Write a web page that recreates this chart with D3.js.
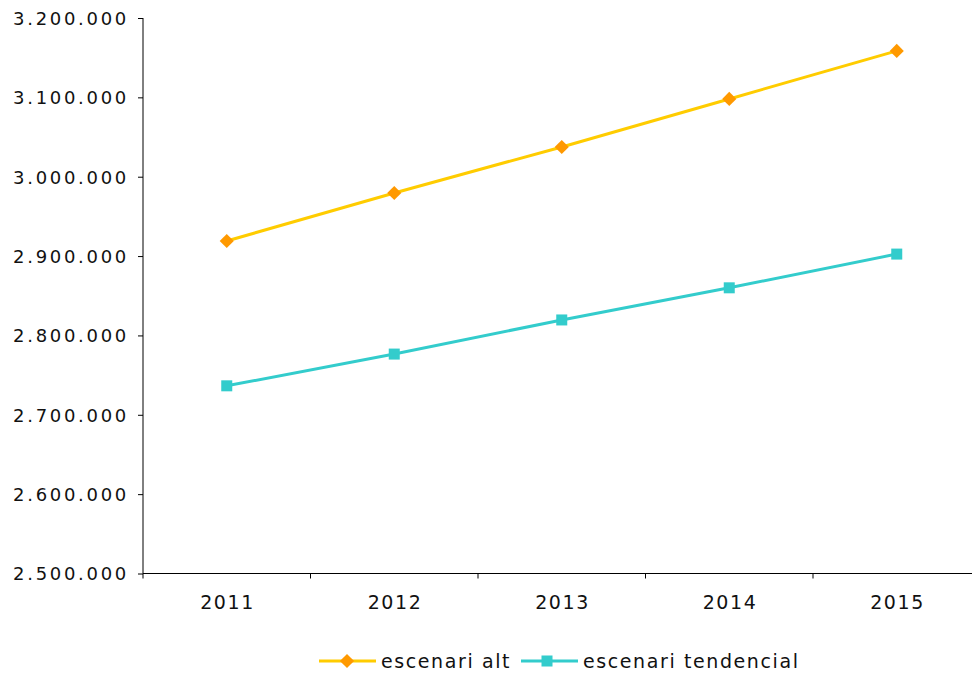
<!DOCTYPE html>
<html><head><meta charset="utf-8">
<script src="https://cdn.jsdelivr.net/npm/d3@7"></script>
<style>
body{margin:0;background:#fff;}
text{font-family:"DejaVu Sans",Verdana,sans-serif;font-size:19px;fill:#111;letter-spacing:1.6px;}
.ylab text{font-size:18px;letter-spacing:2.7px;}
</style></head>
<body><svg id="c" width="972" height="675"></svg>
<script>
const years = ["2011","2012","2013","2014","2015"];
const alt = [2919000, 2979500, 3037500, 3098000, 3158500];
const tendencial = [2736500, 2776500, 2819500, 2860000, 2902500];
const yTicks = [2500000,2600000,2700000,2800000,2900000,3000000,3100000,3200000];
const seriesNames = ["escenari alt","escenari tendencial"];

const svg = d3.select("#c");
const x0 = 143, x1 = 980.5, yTop = 18, yBot = 573.5;
const x = d3.scaleBand().domain(years).range([x0,x1]);
const y = d3.scaleLinear().domain([2500000,3200000]).range([yBot,yTop]);
const fmt = v => d3.format(",")(v).replace(/,/g,".");

const ya = svg.append("g").attr("class","ylab").attr("transform",`translate(${x0},0)`)
  .call(d3.axisLeft(y).tickValues(yTicks).tickSize(5).tickPadding(9).tickFormat(fmt));
ya.select(".domain").attr("stroke","#000").attr("d",`M0,${yTop}V${yBot}`);
ya.selectAll(".tick line").attr("stroke","#000");
ya.selectAll("text").attr("dy","0.36em");

const xa = svg.append("g").attr("transform",`translate(0,${yBot})`);
xa.append("line").attr("x1",x0).attr("x2",x1).attr("stroke","#000");
const bounds = years.map(d=>x(d)).concat([x1]);
xa.selectAll("line.t").data(bounds).enter().append("line").attr("class","t")
  .attr("x1",d=>d).attr("x2",d=>d).attr("y1",0).attr("y2",5).attr("stroke","#000");
xa.selectAll("text").data(years).enter().append("text")
  .attr("x",d=>x(d)+x.bandwidth()/2+0.8).attr("y",35.5).attr("text-anchor","middle").text(d=>d);

const line = d3.line().x((d,i)=>x(years[i])+x.bandwidth()/2).y(d=>y(d));
svg.append("path").datum(alt).attr("d",line).attr("fill","none").attr("stroke","#FFCC00").attr("stroke-width",3);
svg.append("path").datum(tendencial).attr("d",line).attr("fill","none").attr("stroke","#33CCCC").attr("stroke-width",3);

const diamond = d3.symbol().type(d3.symbolSquare).size(100);
svg.selectAll("path.dm").data(alt).enter().append("path").attr("class","dm")
  .attr("d",diamond).attr("fill","#FF9900")
  .attr("transform",(d,i)=>`translate(${x(years[i])+x.bandwidth()/2},${y(d)}) rotate(45)`);
svg.selectAll("rect.sq").data(tendencial).enter().append("rect").attr("class","sq")
  .attr("width",11).attr("height",11).attr("fill","#33CCCC")
  .attr("x",(d,i)=>x(years[i])+x.bandwidth()/2-5.5).attr("y",d=>y(d)-5.5);

const ly = 661;
const lg = svg.append("g");
lg.append("line").attr("x1",319).attr("x2",376).attr("y1",ly).attr("y2",ly).attr("stroke","#FFCC00").attr("stroke-width",3);
lg.append("path").attr("d",diamond).attr("fill","#FF9900").attr("transform",`translate(347,${ly}) rotate(45)`);
lg.append("text").attr("x",381).attr("y",ly).attr("dy","0.35em").text(seriesNames[0]);
lg.append("line").attr("x1",521).attr("x2",578).attr("y1",ly).attr("y2",ly).attr("stroke","#33CCCC").attr("stroke-width",3);
lg.append("rect").attr("x",547-5.5).attr("y",ly-5.5).attr("width",11).attr("height",11).attr("fill","#33CCCC");
lg.append("text").attr("x",583).attr("y",ly).attr("dy","0.35em").text(seriesNames[1]);
</script></body></html>
